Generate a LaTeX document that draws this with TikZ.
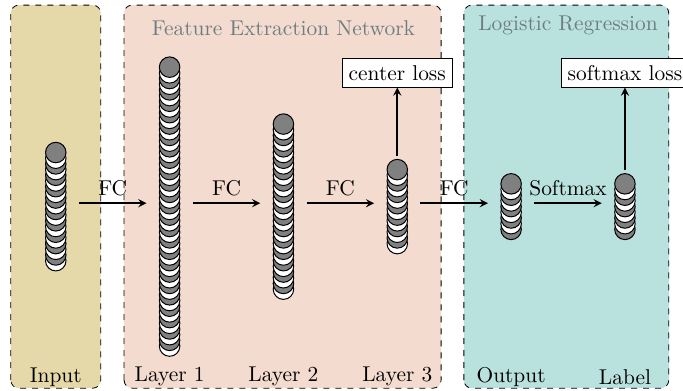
\documentclass[tikz,border=0pt]{standalone}
\usepackage{tikz}
\usetikzlibrary{arrows}
\definecolor{inputbg}{RGB}{229,216,169}
\definecolor{featbg}{RGB}{243,219,207}
\definecolor{logbg}{RGB}{185,225,222}
\definecolor{titlegray}{RGB}{110,125,130}
\tikzstyle{group} = [draw=black, dashed, rounded corners]
\tikzstyle{column} = [rectangle, minimum width=0.8cm, inner sep=0pt]
\tikzstyle{neuron} = [draw=black, line width=0.5pt]
\tikzstyle{loss} = [rectangle, draw=black, fill=white, text centered]
\tikzstyle{title} = [text=titlegray]
\tikzstyle{arrow} = [thick,->,>=stealth]

% stack of units for a column node: #1 = node name, #2 = number of units
\newcommand{\neurons}[2]{%
  \foreach \i in {1,...,#2} {
    \pgfmathtruncatemacro{\parity}{mod(#2-\i,2)}
    \pgfmathsetmacro{\dy}{-0.06-(#2-1)*0.05+(\i-1)*0.1}
    \ifnum\parity=0 \def\unitcol{gray}\else\def\unitcol{white}\fi
    \draw [neuron, fill=\unitcol] (#1.center) ++(0,\dy) circle (0.18cm);
  }
}

\begin{document}
\begin{tikzpicture}[node distance=2cm, font=\fontsize{10.7}{12.8}\selectfont]
\path [use as bounding box] (-0.98,-3.29) rectangle (11.02,3.57);
\clip (-0.98,-3.29) rectangle (11.02,3.57);
\draw [group, fill=inputbg] (-0.79,-3.25) rectangle (0.79,3.48);
\draw [group, fill=featbg] (1.2,-3.25) rectangle (6.77,3.48);
\draw [group, fill=logbg] (7.17,-3.25) rectangle (10.77,3.48);

\node (in) [column, minimum height=2.26cm] {};
\node (l1) [column, minimum height=5.26cm, right of=in] {};
\node (l2) [column, minimum height=3.26cm, right of=l1] {};
\node (l3) [column, minimum height=1.66cm, right of=l2] {};
\node (out) [column, minimum height=1.16cm, right of=l3] {};
\node (lab) [column, minimum height=1.16cm, right of=out] {};

\neurons{in}{20}
\neurons{l1}{50}
\neurons{l2}{30}
\neurons{l3}{14}
\neurons{out}{9}
\neurons{lab}{9}

\node (inname) [below of=in, yshift=-1.05cm] {Input};
\node (l1name) [below of=l1, yshift=-1.05cm] {Layer 1};
\node (l2name) [below of=l2, yshift=-1.05cm] {Layer 2};
\node (l3name) [below of=l3, yshift=-1.05cm] {Layer 3};
\node (outname) [below of=out, yshift=-1.05cm] {Output};
\node (labname) [below of=lab, yshift=-1.05cm] {Label};

\node (closs) [loss, above of=l3, yshift=0.29cm] {center loss};
\node (sloss) [loss, above of=lab, yshift=0.29cm] {softmax loss};
\node (fentitle) [title, above of=l2, yshift=1.08cm] {Feature Extraction Network};
\node (lrtitle) [title] at (9,3.12) {Logistic Regression};

\draw [arrow] (in) -- node[above] {FC} (l1);
\draw [arrow] (l1) -- node[above] {FC} (l2);
\draw [arrow] (l2) -- node[above] {FC} (l3);
\draw [arrow] (l3) -- node[above] {FC} (out);
\draw [arrow] (out) -- node[above] {Softmax} (lab);
\draw [arrow] (l3) -- (closs);
\draw [arrow] (lab) -- (sloss);
\end{tikzpicture}
\end{document}
